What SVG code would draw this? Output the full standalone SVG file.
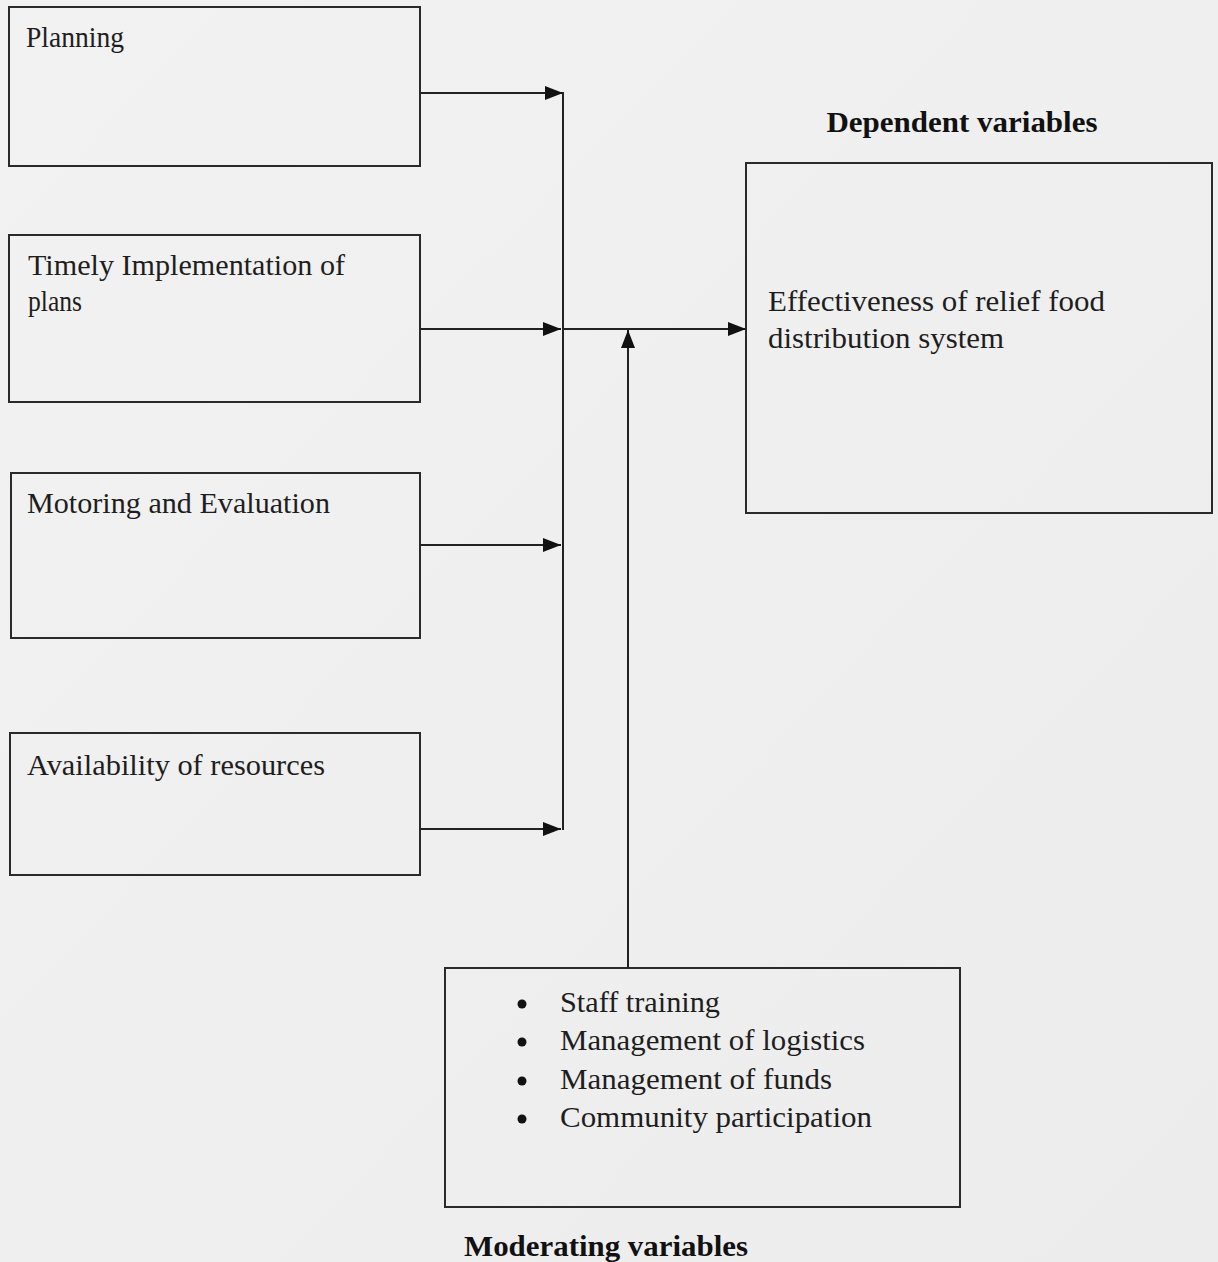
<svg xmlns="http://www.w3.org/2000/svg" width="1218" height="1262" viewBox="0 0 1218 1262">
<style>
.box{fill:none;stroke:#2a2a2a;stroke-width:2}
.t{font-size:29px;fill:#1e1e1e}
.b{font-size:29px;font-weight:bold;fill:#111}
.c{fill:none;stroke:#222;stroke-width:2}
</style>
<defs>
<linearGradient id="bg" x1="0" y1="0" x2="1" y2="1">
<stop offset="0" stop-color="#f2f2f2"/>
<stop offset="1" stop-color="#ececec"/>
</linearGradient>
<marker id="ah" markerUnits="userSpaceOnUse" markerWidth="20" markerHeight="14" refX="18" refY="7" orient="auto">
<path d="M0,0 L18,7 L0,14 Z" fill="#111"/>
</marker>
</defs>
<rect width="1218" height="1262" fill="url(#bg)"/>
<g font-family="'Liberation Serif', Tinos, 'Times New Roman', Times, serif">
<g id="planning">
<rect class="box" x="9" y="7" width="411" height="159"/>
<text class="t" x="26" y="47" textLength="98" lengthAdjust="spacingAndGlyphs">Planning</text>
</g>
<g id="timely">
<rect class="box" x="9" y="235" width="411" height="167"/>
<text class="t" x="28" y="275" textLength="317" lengthAdjust="spacingAndGlyphs">Timely Implementation of</text>
<text class="t" x="28" y="311" textLength="54" lengthAdjust="spacingAndGlyphs">plans</text>
</g>
<g id="monitoring">
<rect class="box" x="11" y="473" width="409" height="165"/>
<text class="t" x="27" y="513" textLength="303" lengthAdjust="spacingAndGlyphs">Motoring and Evaluation</text>
</g>
<g id="resources">
<rect class="box" x="10" y="733" width="410" height="142"/>
<text class="t" x="27" y="775" textLength="298" lengthAdjust="spacingAndGlyphs">Availability of resources</text>
</g>
<g id="dependent">
<text class="b" x="962" y="132" text-anchor="middle" textLength="271" lengthAdjust="spacingAndGlyphs">Dependent variables</text>
<rect class="box" x="746" y="163" width="466" height="350"/>
<text class="t" x="768" y="311" textLength="337" lengthAdjust="spacingAndGlyphs">Effectiveness of relief food</text>
<text class="t" x="768" y="348" textLength="236" lengthAdjust="spacingAndGlyphs">distribution system</text>
</g>
<g id="moderating">
<rect class="box" x="445" y="968" width="515" height="239"/>
<circle cx="522" cy="1004" r="4.5" fill="#111"/>
<circle cx="522" cy="1042" r="4.5" fill="#111"/>
<circle cx="522" cy="1081" r="4.5" fill="#111"/>
<circle cx="522" cy="1119" r="4.5" fill="#111"/>
<text class="t" x="560" y="1012" textLength="160" lengthAdjust="spacingAndGlyphs">Staff training</text>
<text class="t" x="560" y="1050" textLength="305" lengthAdjust="spacingAndGlyphs">Management of logistics</text>
<text class="t" x="560" y="1089" textLength="272" lengthAdjust="spacingAndGlyphs">Management of funds</text>
<text class="t" x="560" y="1127" textLength="312" lengthAdjust="spacingAndGlyphs">Community participation</text>
<text class="b" x="464" y="1256" textLength="284" lengthAdjust="spacingAndGlyphs">Moderating variables</text>
</g>
</g>
<g id="connectors">
<line class="c" x1="420" y1="93" x2="563" y2="93" marker-end="url(#ah)"/>
<line class="c" x1="420" y1="329" x2="561" y2="329" marker-end="url(#ah)"/>
<line class="c" x1="420" y1="545" x2="561" y2="545" marker-end="url(#ah)"/>
<line class="c" x1="420" y1="829" x2="561" y2="829" marker-end="url(#ah)"/>
<line class="c" x1="563" y1="92" x2="563" y2="830"/>
<line class="c" x1="563" y1="329" x2="746" y2="329" marker-end="url(#ah)"/>
<line class="c" x1="628" y1="968" x2="628" y2="330" marker-end="url(#ah)"/>
</g>
</svg>
